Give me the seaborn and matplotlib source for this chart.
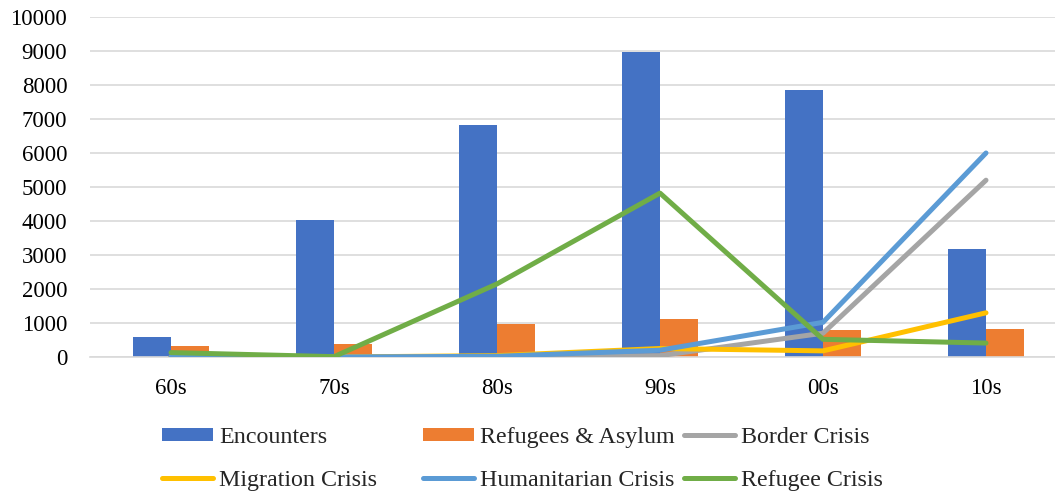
import numpy as np
import pandas as pd
import matplotlib
matplotlib.use("Agg")
import matplotlib.pyplot as plt
from matplotlib.lines import Line2D
from matplotlib.patches import Patch
import seaborn as sns

# Decades on the category axis
decades = ["60s", "70s", "80s", "90s", "00s", "10s"]

# Bar series
encounters = [600, 4020, 6820, 8970, 7850, 3170]
refugees_asylum = [320, 370, 960, 1120, 790, 810]

# Line series
border_crisis = [0, 0, 10, 40, 700, 5200]
migration_crisis = [0, 0, 40, 250, 180, 1300]
humanitarian_crisis = [0, 0, 20, 200, 1020, 6000]
refugee_crisis = [130, 10, 2150, 4820, 520, 410]

y_ticks = [0, 1000, 2000, 3000, 4000, 5000, 6000, 7000, 8000, 9000, 10000]

bar_names = ["Encounters", "Refugees & Asylum"]
bar_colors = ["#4472C4", "#ED7D31"]
line_names = ["Border Crisis", "Migration Crisis", "Humanitarian Crisis", "Refugee Crisis"]
line_colors = ["#A5A5A5", "#FFC000", "#5B9BD5", "#70AD47"]

bars = pd.DataFrame({
    "decade": decades * 2,
    "value": encounters + refugees_asylum,
    "series": [bar_names[0]] * len(decades) + [bar_names[1]] * len(decades),
})
line_values = [border_crisis, migration_crisis, humanitarian_crisis, refugee_crisis]
lines = pd.DataFrame({
    "pos": list(range(len(decades))) * len(line_names),
    "value": sum(line_values, []),
    "series": sum([[n] * len(decades) for n in line_names], []),
})

sns.set_theme(style="white")
plt.rcParams["font.family"] = ["Liberation Serif", "DejaVu Serif"]

W, H = 1055, 493
LW = 3.6
fig = plt.figure(figsize=(W / 100, H / 100), dpi=100)
ax = fig.add_axes([89.5 / W, (H - 357) / H, 978 / W, 340 / H])

sns.barplot(data=bars, x="decade", y="value", hue="series", order=decades,
            hue_order=bar_names, palette=bar_colors, width=0.47, gap=0,
            saturation=1, legend=False, ax=ax, zorder=2, linewidth=0)

sns.lineplot(data=lines, x="pos", y="value", hue="series", hue_order=line_names,
             palette=line_colors, linewidth=LW, legend=False, ax=ax,
             sort=False, zorder=3)
for ln in ax.get_lines():
    ln.set_solid_capstyle("round")
    ln.set_solid_joinstyle("round")

ax.set_xlim(-0.5, len(decades) - 0.5)
ax.set_ylim(0, 10000)
ax.set_yticks(y_ticks)
ax.set_yticklabels([str(v) for v in y_ticks])
ax.set_xticks(range(len(decades)))
ax.set_xticklabels(decades)
ax.set_xlabel("")
ax.set_ylabel("")
ax.grid(axis="y", color="#D9D9D9", linewidth=1.2, zorder=0)
ax.set_axisbelow(True)
for s in ["top", "right", "left"]:
    ax.spines[s].set_visible(False)
ax.spines["bottom"].set_color("#D9D9D9")
ax.spines["bottom"].set_linewidth(1.2)
ax.tick_params(axis="both", length=0, labelsize=16.5, colors="black")
ax.tick_params(axis="y", pad=16)
ax.tick_params(axis="x", pad=15)

# Legend: three columns placed individually
handles = [
    Patch(facecolor=bar_colors[0], edgecolor="none"),
    Patch(facecolor=bar_colors[1], edgecolor="none"),
] + [Line2D([0], [0], color=c, linewidth=LW, solid_capstyle="round") for c in line_colors]
labels = bar_names + line_names
columns = [[0, 3], [1, 4], [2, 5]]
col_x = [162, 423, 684]
for cx, idx in zip(col_x, columns):
    fig.legend([handles[i] for i in idx], [labels[i] for i in idx],
               loc="upper left", bbox_to_anchor=(cx / W, (H - 427) / H),
               frameon=False, fontsize=17.3, handlelength=2.13,
               handleheight=0.5, handletextpad=0.25, labelspacing=0.92,
               borderpad=0, borderaxespad=0)

fig.savefig("out.png", dpi=100, facecolor="white")
